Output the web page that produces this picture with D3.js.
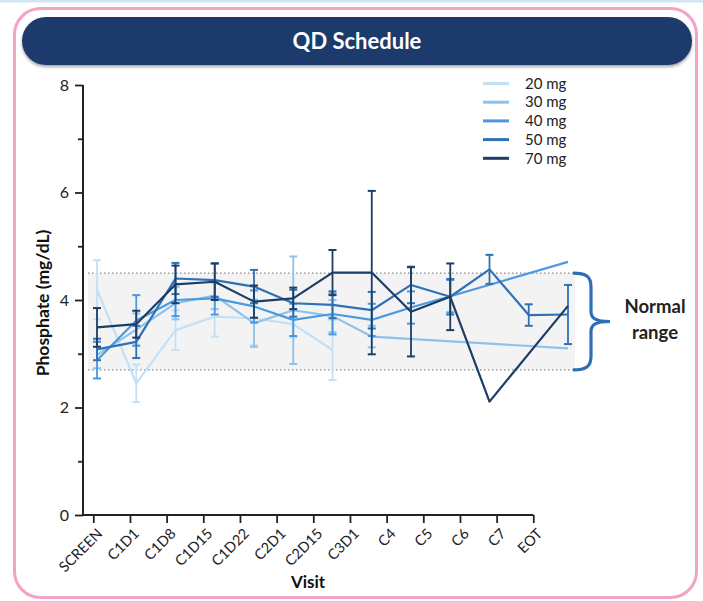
<!DOCTYPE html>
<html>
<head>
<meta charset="utf-8">
<script src="https://cdn.jsdelivr.net/npm/d3@7"></script>
<style>
  html, body { margin: 0; padding: 0; background: #fff; }
  svg { display: block; font-family: Lato, "Open Sans", sans-serif; }
</style>
</head>
<body>
<svg id="chart" width="703" height="601"></svg>
<script>
// Visits on the x axis
const visits = ["SCREEN", "C1D1", "C1D8", "C1D15", "C1D22", "C2D1", "C2D15", "C3D1", "C4", "C5", "C6", "C7", "EOT"];
const doses = ["20 mg", "30 mg", "40 mg", "50 mg", "70 mg"];
const doseColors = ["#c4e0f5", "#8cc3ee", "#4a99e2", "#2f71b6", "#1d3c66"];

// Mean phosphate (mg/dL) per visit, null = no data at that visit
const mean20 = [4.19, 2.45, 3.44, 3.69, 3.66, 3.55, 3.07, null, null, null, null, null, null];
const mean30 = [2.98, 3.45, 3.94, 4.08, 3.57, 3.81, 3.70, 3.32, null, null, null, null, 3.10];
const mean40 = [2.88, 3.62, 4.00, 4.03, 3.88, 3.63, 3.74, 3.63, 3.86, 4.07, null, null, 4.71];
const mean50 = [3.08, 3.22, 4.40, 4.37, 4.25, 3.94, 3.91, 3.81, 4.28, 4.06, 4.57, 3.72, 3.73];
const mean70 = [3.49, 3.55, 4.29, 4.34, 3.97, 4.03, 4.51, 4.51, 3.78, 4.06, 2.11, null, 3.89];

// Standard deviations (null = no error bar)
const sd20 = [0.55, 0.35, 0.37, 0.37, 0.50, 0.25, 0.56, null, null, null, null, null, null];
const sd30 = [0.25, 0.30, 0.30, 0.25, 0.44, 1.00, 0.30, 0.20, null, null, null, null, null];
const sd40 = [0.34, 0.47, 0.30, 0.30, 0.30, 0.30, 0.38, 0.30, 0.30, 0.30, null, null, null];
const sd50 = [0.20, 0.30, 0.29, 0.31, 0.31, 0.25, 0.25, 0.34, 0.34, 0.33, 0.27, 0.20, 0.55];
const sd70 = [0.36, 0.25, 0.35, 0.34, 0.30, 0.20, 0.42, 1.52, 0.83, 0.62, null, null, null];

const yTicksMajor = [0, 2, 4, 6, 8];
const yTicksMinor = [1, 3, 5, 7];
const normalRange = [2.7, 4.5];

const series = [
  { name: doses[0], color: doseColors[0], mean: mean20, sd: sd20 },
  { name: doses[1], color: doseColors[1], mean: mean30, sd: sd30 },
  { name: doses[2], color: doseColors[2], mean: mean40, sd: sd40 },
  { name: doses[3], color: doseColors[3], mean: mean50, sd: sd50 },
  { name: doses[4], color: doseColors[4], mean: mean70, sd: sd70 }
];

const svg = d3.select("#chart");

// Page frame
svg.append("rect").attr("x", 0).attr("y", 0).attr("width", 703).attr("height", 2.5).attr("fill", "#d3e5f4");
svg.append("rect")
  .attr("x", 14.5).attr("y", 8.5).attr("width", 682).attr("height", 589).attr("rx", 26)
  .attr("fill", "#fff").attr("stroke", "#f2a3c6").attr("stroke-width", 3);

// Title banner
const defs = svg.append("defs");
const f = defs.append("filter").attr("id", "shadow").attr("x", "-5%").attr("y", "-20%").attr("width", "110%").attr("height", "150%");
f.append("feDropShadow").attr("dx", 0).attr("dy", 2).attr("stdDeviation", 1.5).attr("flood-color", "#000").attr("flood-opacity", 0.35);
svg.append("rect")
  .attr("x", 22).attr("y", 17).attr("width", 670).attr("height", 48).attr("rx", 24)
  .attr("fill", "#1e3a6c").attr("filter", "url(#shadow)");
svg.append("text")
  .attr("x", 357).attr("y", 49).attr("text-anchor", "middle")
  .attr("fill", "#fff").attr("font-size", 22).attr("font-weight", 700)
  .text("QD Schedule");

// Scales
const y = d3.scaleLinear().domain([0, 8]).range([515, 85]);
const xTick = d3.scalePoint().domain(visits).range([93.3, 533.3]);
const xData = d3.scalePoint().domain(visits).range([97, 568]);
const axisX0 = 83;

// Normal range band
svg.append("rect")
  .attr("x", 88).attr("width", 575 - 88)
  .attr("y", y(normalRange[1])).attr("height", y(normalRange[0]) - y(normalRange[1]))
  .attr("fill", "#f3f3f3");
svg.selectAll("line.range").data(normalRange).join("line")
  .attr("class", "range")
  .attr("x1", 88).attr("x2", 575)
  .attr("y1", d => y(d)).attr("y2", d => y(d))
  .attr("stroke", "#8a8a8a").attr("stroke-width", 1.4).attr("stroke-dasharray", "1.5,2.5");

// Y axis
const yAxisG = svg.append("g").attr("transform", `translate(${axisX0},0)`)
  .call(d3.axisLeft(y).tickValues(yTicksMajor).tickSize(8).tickPadding(6).tickFormat(d3.format("d")));
yAxisG.select(".domain").remove();
yAxisG.selectAll("line").attr("stroke", "#222").attr("stroke-width", 1.8);
yAxisG.selectAll("text").attr("font-size", 16).attr("fill", "#222").attr("font-family", "Lato, sans-serif");
const yMinorG = svg.append("g").attr("transform", `translate(${axisX0},0)`)
  .call(d3.axisLeft(y).tickValues(yTicksMinor).tickSize(5).tickFormat(""));
yMinorG.select(".domain").remove();
yMinorG.selectAll("line").attr("stroke", "#222").attr("stroke-width", 1.8);
svg.append("line")
  .attr("x1", axisX0).attr("x2", axisX0).attr("y1", y(8)).attr("y2", y(0))
  .attr("stroke", "#222").attr("stroke-width", 2);

// X axis
const xAxisG = svg.append("g").attr("transform", `translate(0,${y(0)})`)
  .call(d3.axisBottom(xTick).tickSize(8).tickSizeOuter(0));
xAxisG.select(".domain").remove();
xAxisG.selectAll("line").attr("stroke", "#222").attr("stroke-width", 1.8);
xAxisG.selectAll("text")
  .attr("x", 0).attr("y", 0).attr("dy", "0.35em")
  .attr("transform", "translate(6,16) rotate(-45)")
  .style("text-anchor", "end")
  .attr("font-size", 14.5).attr("fill", "#222").attr("font-family", "Lato, sans-serif");
svg.append("line")
  .attr("x1", axisX0).attr("x2", xTick(visits[visits.length - 1]))
  .attr("y1", y(0)).attr("y2", y(0))
  .attr("stroke", "#222").attr("stroke-width", 2);

// Axis titles
svg.append("text")
  .attr("transform", `translate(49,${(y(8) + y(0)) / 2 + 3}) rotate(-90)`)
  .attr("text-anchor", "middle").attr("font-size", 17.5).attr("font-weight", 700).attr("fill", "#111")
  .text("Phosphate (mg/dL)");
svg.append("text")
  .attr("x", 308).attr("y", 588).attr("text-anchor", "middle")
  .attr("font-size", 17).attr("font-weight", 700).attr("fill", "#111")
  .text("Visit");

// Series: lines and error bars
const line = d3.line().x(d => xData(d.visit)).y(d => y(d.value));
series.forEach(s => {
  const pts = visits.map((v, i) => ({ visit: v, value: s.mean[i], sd: s.sd[i] })).filter(d => d.value != null);
  const g = svg.append("g");
  g.append("path").datum(pts)
    .attr("d", line).attr("fill", "none")
    .attr("stroke", s.color).attr("stroke-width", 2.2).attr("stroke-linejoin", "round");
  const bars = pts.filter(d => d.sd != null);
  g.selectAll("line.err").data(bars).join("line")
    .attr("x1", d => xData(d.visit)).attr("x2", d => xData(d.visit))
    .attr("y1", d => y(d.value + d.sd)).attr("y2", d => y(d.value - d.sd))
    .attr("stroke", s.color).attr("stroke-width", 1.8);
  ["hi", "lo"].forEach(k => {
    g.selectAll("line.cap" + k).data(bars).join("line")
      .attr("x1", d => xData(d.visit) - 4).attr("x2", d => xData(d.visit) + 4)
      .attr("y1", d => y(k === "hi" ? d.value + d.sd : d.value - d.sd))
      .attr("y2", d => y(k === "hi" ? d.value + d.sd : d.value - d.sd))
      .attr("stroke", s.color).attr("stroke-width", 2);
  });
});

// Legend
const legend = svg.append("g");
series.forEach((s, i) => {
  const ly = 83.5 + i * 18.7;
  legend.append("line")
    .attr("x1", 483).attr("x2", 509).attr("y1", ly).attr("y2", ly)
    .attr("stroke", s.color).attr("stroke-width", 3);
  legend.append("text")
    .attr("x", 525).attr("y", ly).attr("dy", "0.35em")
    .attr("font-size", 15).attr("fill", "#222")
    .text(s.name);
});

// Normal range brace
const yt = y(normalRange[1]), yb = y(normalRange[0]), ym = (yt + yb) / 2;
svg.append("path")
  .attr("d", `M573,${yt} C586,${yt} 591,${yt + 3} 591,${yt + 14} L591,${ym - 10}
              C591,${ym - 3} 596,${ym} 610,${ym} C596,${ym} 591,${ym + 3} 591,${ym + 10}
              L591,${yb - 14} C591,${yb - 3} 586,${yb} 573,${yb}`)
  .attr("fill", "none").attr("stroke", "#2e6fb3").attr("stroke-width", 3.2);
svg.append("text")
  .attr("x", 655).attr("y", 313).attr("text-anchor", "middle")
  .attr("font-size", 18.5).attr("font-weight", 700).attr("fill", "#222")
  .text("Normal");
svg.append("text")
  .attr("x", 655).attr("y", 339).attr("text-anchor", "middle")
  .attr("font-size", 18.5).attr("font-weight", 700).attr("fill", "#222")
  .text("range");
</script>
</body>
</html>
